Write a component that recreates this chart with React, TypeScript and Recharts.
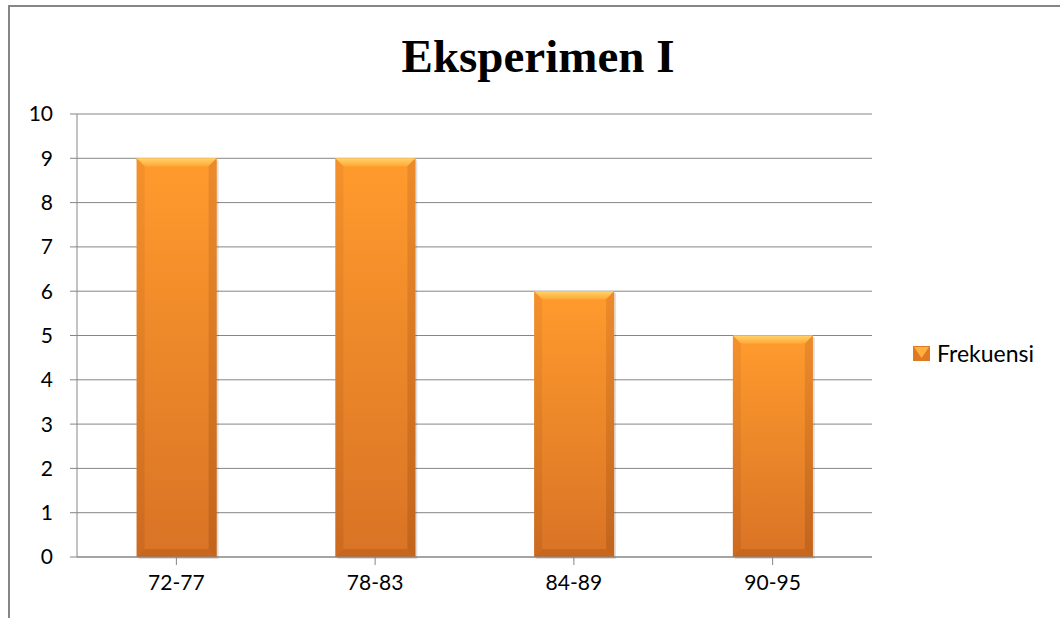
import { BarChart, Bar, XAxis, YAxis, CartesianGrid } from "recharts";

const categories = ["72-77", "78-83", "84-89", "90-95"];
const frekuensi = [9, 9, 6, 5];
const yTicks = [0, 1, 2, 3, 4, 5, 6, 7, 8, 9, 10];

const data = categories.map((c, i) => ({ name: c, Frekuensi: frekuensi[i] }));

const font = "Lato, 'Open Sans', 'DejaVu Sans', sans-serif";
const gray = "#868686";

function BevelBar(props: any) {
  const { x, y, width: w, height: h } = props;
  if (!h || h <= 0) return null;
  const b = 8;
  return (
    <g>
      <rect x={x + 2} y={y + 2} width={w} height={h} fill="rgba(0,0,0,0.12)" />
      <rect x={x} y={y} width={w} height={h} fill="url(#barGrad)" />
      <polygon
        points={`${x},${y} ${x + w},${y} ${x + w - b},${y + b} ${x + b},${y + b}`}
        fill="url(#topGrad)"
      />
      <polygon
        points={`${x},${y} ${x + b},${y + b} ${x + b},${y + h - b} ${x},${y + h}`}
        fill="url(#sideGrad)"
        opacity={0.35}
      />
      <polygon
        points={`${x + w},${y} ${x + w - b},${y + b} ${x + w - b},${y + h - b} ${x + w},${y + h}`}
        fill="url(#sideGrad)"
        opacity={0.6}
      />
      <polygon
        points={`${x},${y + h} ${x + b},${y + h - b} ${x + w - b},${y + h - b} ${x + w},${y + h}`}
        fill="#B85A16"
        opacity={0.5}
      />
    </g>
  );
}

export default function App() {
  return (
    <div style={{ position: "absolute", left: 0, top: 0, width: 1060, height: 618, overflow: "hidden", background: "#fff" }}>
      <div
        style={{
          position: "absolute",
          left: 8,
          top: 5,
          width: 1100,
          height: 700,
          border: `2px solid ${gray}`,
          boxSizing: "border-box",
        }}
      />
      <div
        style={{
          position: "absolute",
          left: 0,
          top: 27,
          width: 1076,
          textAlign: "center",
          fontFamily: "'Liberation Serif', 'DejaVu Serif', serif",
          fontWeight: "bold",
          fontSize: 47,
          lineHeight: "58px",
        }}
      >
        Eksperimen I
      </div>
      <div style={{ position: "absolute", left: 0, top: 0 }}>
        <BarChart
          width={1060}
          height={618}
          data={data}
          margin={{ top: 114, right: 188, bottom: 31, left: 0 }}
          barCategoryGap="30%"
        >
          <defs>
            <linearGradient id="barGrad" x1="0" y1="0" x2="0" y2="1">
              <stop offset="0%" stopColor="#FF9B2D" />
              <stop offset="100%" stopColor="#D97326" />
            </linearGradient>
            <linearGradient id="topGrad" x1="0" y1="0" x2="0" y2="1">
              <stop offset="0%" stopColor="#FFD36A" />
              <stop offset="100%" stopColor="#FFA935" />
            </linearGradient>
            <linearGradient id="sideGrad" x1="0" y1="0" x2="0" y2="1">
              <stop offset="0%" stopColor="#E0802A" />
              <stop offset="100%" stopColor="#B25A16" />
            </linearGradient>
          </defs>
          <CartesianGrid vertical={false} stroke={gray} strokeWidth={1} />
          <XAxis
            dataKey="name"
            height={30}
            stroke={gray}
            tickLine={{ stroke: gray }}
            tickSize={8}
            tickMargin={10}
            tick={{ fill: "#000", fontSize: 21, fontFamily: font }}
          />
          <YAxis
            domain={[0, 10]}
            ticks={yTicks}
            interval={0}
            width={77}
            stroke={gray}
            tickLine={{ stroke: gray }}
            tickSize={7}
            tickMargin={17}
            tick={{ fill: "#000", fontSize: 21, fontFamily: font }}
          />
          <Bar dataKey="Frekuensi" shape={<BevelBar />} isAnimationActive={false} />
        </BarChart>
      </div>
      <div
        style={{
          position: "absolute",
          left: 913,
          top: 339,
          display: "flex",
          alignItems: "center",
          fontFamily: font,
          fontSize: 23,
          color: "#000",
        }}
      >
        <svg width={18} height={15} style={{ marginRight: 6 }}>
          <rect x={0} y={0} width={17} height={15} fill="#E07A22" />
          <polygon points="1,1 16,1 8.5,12" fill="#FFB040" />
        </svg>
        <span>Frekuensi</span>
      </div>
    </div>
  );
}
